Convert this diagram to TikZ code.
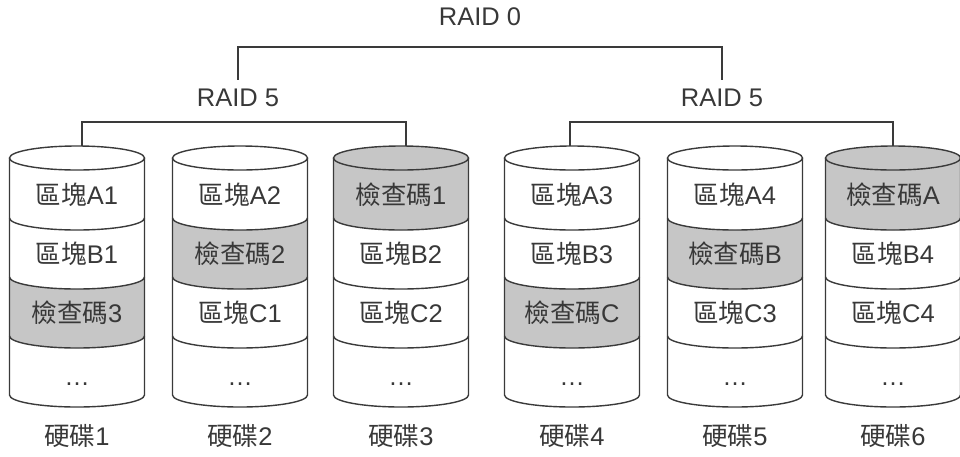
\documentclass[tikz,border=0pt]{standalone}
\usepackage{fontspec}
\setmainfont{Liberation Sans}
\newfontfamily\cjk{Noto Sans CJK TC}
\definecolor{edge}{HTML}{3A3A3A}
\definecolor{ink}{HTML}{383838}
\definecolor{parity}{HTML}{C6C6C6}
\tikzset{
  rim/.style={draw=edge, line width=1.4pt},
  link/.style={draw=edge, line width=1.4pt},
  lbl/.style={text=ink, font=\fontsize{25.5}{29}\selectfont, inner sep=0pt,
              text height=19pt, text depth=3pt},
  ell/.style={x radius=67.5pt, y radius=12pt},
}
\newcommand\blkword{{\cjk 區塊}}
\newcommand\chkword{{\cjk 檢查碼}}
% shaded band between two divider rims: centre x, upper rim y, lower rim y
\newcommand\bandfill[3]{%
  \fill[parity] ({#1-67.5},#2) arc[start angle=180,end angle=360,ell]
    -- ({#1+67.5},#3) arc[start angle=360,end angle=180,ell] -- cycle;}
% one disk: index, centre x, shaded band (1-3), three band labels
\newcommand\disk[6]{%
  \ifcase#3\or
    \fill[parity] (#2,158) ellipse[ell];
    \bandfill{#2}{158}{218}%
  \or
    \bandfill{#2}{218}{277}%
  \or
    \bandfill{#2}{277}{336}%
  \fi
  \draw[rim] (#2,158) ellipse[ell];
  \draw[rim] ({#2-67.5},158) -- ({#2-67.5},395)
    arc[start angle=180,end angle=360,ell] -- ({#2+67.5},158);
  \foreach \yy in {218,277,336}
    \draw[rim] ({#2-67.5},\yy) arc[start angle=180,end angle=360,ell];
  \node[lbl] (b#1a) at (#2,196) {#4};
  \node[lbl] (b#1b) at (#2,255) {#5};
  \node[lbl] (b#1c) at (#2,314) {#6};
  \node[lbl] (b#1d) at (#2,377) {…};
  \node[lbl] (disk#1) at (#2,437) {{\cjk 硬碟}#1};
}
\begin{document}
\begin{tikzpicture}[x=1pt, y=-1pt]
  \useasboundingbox (0,0) rectangle (960,456);

  \disk{1}{77}{3}{\blkword A1}{\blkword B1}{\chkword 3}
  \disk{2}{240}{2}{\blkword A2}{\chkword 2}{\blkword C1}
  \disk{3}{401}{1}{\chkword 1}{\blkword B2}{\blkword C2}
  \disk{4}{572}{3}{\blkword A3}{\blkword B3}{\chkword C}
  \disk{5}{735}{2}{\blkword A4}{\chkword B}{\blkword C3}
  \disk{6}{893}{1}{\chkword A}{\blkword B4}{\blkword C4}

  % array labels
  \node[lbl] (raid0)  at (480,17) {RAID 0};
  \node[lbl] (raid5a) at (238,98) {RAID 5};
  \node[lbl] (raid5b) at (722,98) {RAID 5};

  % attachment points on the disk tops
  \coordinate (a1) at (82,146);
  \coordinate (a3) at (406,146);
  \coordinate (a4) at (570,146);
  \coordinate (a6) at (893,146);

  % tree connectors
  \draw[link] ([yshift=7pt]raid5a.north) -- ++(0,-33) -| ([yshift=7pt]raid5b.north);
  \draw[link] (a1) -- ++(0,-24) -| (a3);
  \draw[link] (a4) -- ++(0,-24) -| (a6);
\end{tikzpicture}
\end{document}
